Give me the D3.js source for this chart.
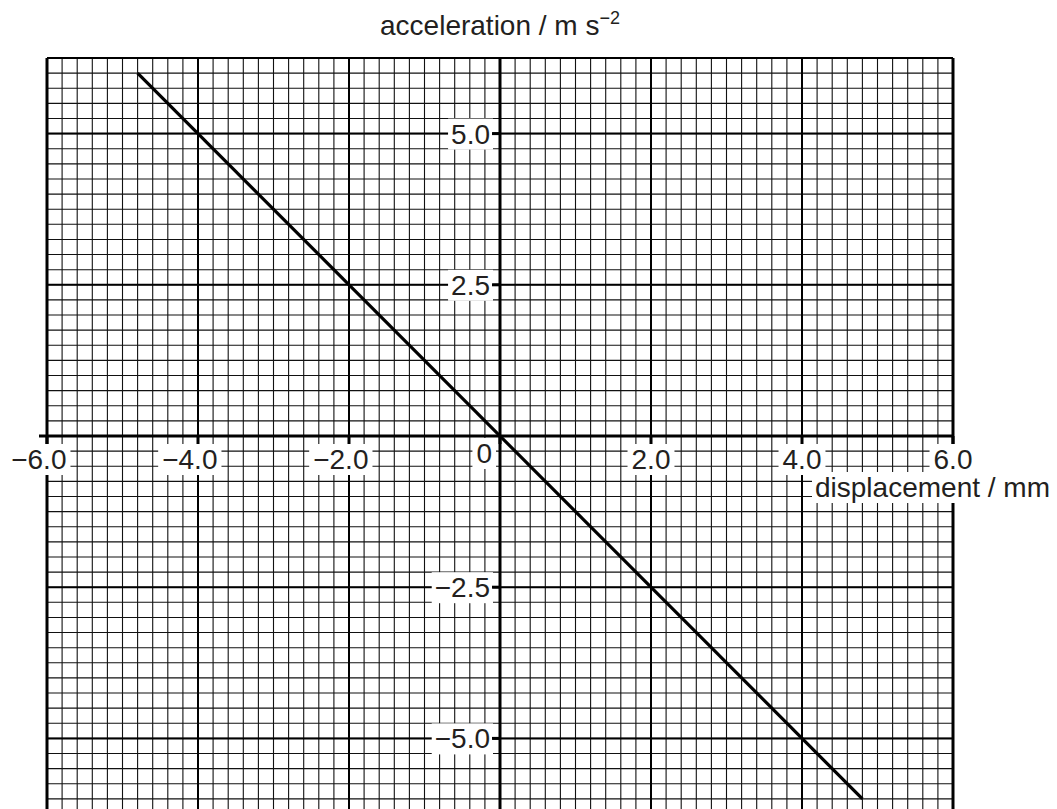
<!DOCTYPE html>
<html>
<head>
<meta charset="utf-8">
<script src="https://cdn.jsdelivr.net/npm/d3@7"></script>
<style>
  body { margin: 0; background: #fff; }
  text { font-family: "Liberation Sans", Arial, sans-serif; fill: #231f20; }
</style>
</head>
<body>
<div id="chart"></div>
<script>
// data
var xTicks = [-6, -4, -2, 0, 2, 4, 6];
var xTickLabels = ["−6.0", "−4.0", "−2.0", "0", "2.0", "4.0", "6.0"];
var yTicks = [5, 2.5, -2.5, -5];
var yTickLabels = ["5.0", "2.5", "−2.5", "−5.0"];
var lineX = [-4.8, 4.8];
var lineY = [6.0, -6.0];

var W = 1057, H = 809;

var x = d3.scaleLinear().domain([-6, 6]).range([47, 953]);
var y = d3.scaleLinear().domain([-6.25, 6.25]).range([814, 58]);

var svg = d3.select("#chart").append("svg")
  .attr("width", W).attr("height", H);

// minor grid
var gx = d3.range(-6, 6.0001, 0.2);
var gy = d3.range(-6.25, 6.2501, 0.25);
var grid = svg.append("g");
grid.selectAll(".vx").data(gx).enter().append("line")
  .attr("x1", function(d){ return x(d); }).attr("x2", function(d){ return x(d); })
  .attr("y1", y(6.25)).attr("y2", y(-6.25))
  .attr("stroke", "#111").attr("stroke-width", 1.1);
grid.selectAll(".hy").data(gy).enter().append("line")
  .attr("y1", function(d){ return y(d); }).attr("y2", function(d){ return y(d); })
  .attr("x1", x(-6)).attr("x2", x(6))
  .attr("stroke", "#111").attr("stroke-width", 1.1);

// major grid
grid.selectAll(".mx").data(xTicks).enter().append("line")
  .attr("x1", function(d){ return x(d); }).attr("x2", function(d){ return x(d); })
  .attr("y1", y(6.25)).attr("y2", y(-6.25))
  .attr("stroke", "#000").attr("stroke-width", 2);
grid.selectAll(".my").data([-5, -2.5, 2.5, 5]).enter().append("line")
  .attr("y1", function(d){ return y(d); }).attr("y2", function(d){ return y(d); })
  .attr("x1", x(-6)).attr("x2", x(6))
  .attr("stroke", "#000").attr("stroke-width", 2);

// border
grid.append("line").attr("x1", x(-6)).attr("x2", x(-6)).attr("y1", y(6.25)).attr("y2", y(-6.25))
  .attr("stroke", "#000").attr("stroke-width", 3);
grid.append("line").attr("x1", x(6)).attr("x2", x(6)).attr("y1", y(6.25)).attr("y2", y(-6.25))
  .attr("stroke", "#000").attr("stroke-width", 3);
grid.append("line").attr("x1", x(-6)).attr("x2", x(6)).attr("y1", y(6.25)).attr("y2", y(6.25))
  .attr("stroke", "#000").attr("stroke-width", 2);

var fs = 28;

function boxed(g, pad, padY) {
  var b = g.node().getBBox();
  g.insert("rect", ":first-child")
    .attr("x", b.x - pad).attr("y", b.y - padY)
    .attr("width", b.width + 2 * pad).attr("height", b.height + 2 * padY)
    .attr("fill", "#fff");
}

// x tick labels
xTicks.forEach(function(t, i){
  var g = svg.append("g");
  var lab = xTickLabels[i];
  if (t === 0) {
    g.append("text").attr("x", x(0) - 8).attr("y", 463)
      .attr("text-anchor", "end").attr("font-size", fs).text(lab);
    boxed(g, 4, 0);
    return;
  }
  var neg = lab.charAt(0) === "−";
  var num = neg ? lab.slice(1) : lab;
  var tn = g.append("text").attr("x", x(t)).attr("y", 469)
    .attr("text-anchor", "middle").attr("font-size", fs).text(num);
  if (neg) {
    var bb = tn.node().getBBox();
    g.append("text").attr("x", bb.x).attr("y", 469)
      .attr("text-anchor", "end").attr("font-size", fs).text("−");
  }
  boxed(g, 4, 0);
});

// y tick labels
yTicks.forEach(function(t, i){
  var g = svg.append("g");
  g.append("text").attr("x", x(0) - 10).attr("y", y(t) + 10)
    .attr("text-anchor", "end").attr("font-size", fs).text(yTickLabels[i]);
  boxed(g, 3, 0);
});

// axis title x
var gxT = svg.append("g");
gxT.append("text").attr("x", 815).attr("y", 497)
  .attr("font-size", fs).text("displacement / mm");
boxed(gxT, 3, 0);

// axis title y
var yt = svg.append("text").attr("x", x(0)).attr("y", 35)
  .attr("text-anchor", "middle").attr("font-size", fs);
yt.append("tspan").text("acceleration / m s");
yt.append("tspan").attr("font-size", 18).attr("dy", -11).text("−2");

// axes
svg.append("line").attr("x1", 39).attr("x2", x(6)).attr("y1", y(0)).attr("y2", y(0))
  .attr("stroke", "#000").attr("stroke-width", 3);
svg.append("line").attr("x1", x(0)).attr("x2", x(0)).attr("y1", y(6.25)).attr("y2", y(-6.25))
  .attr("stroke", "#000").attr("stroke-width", 3);

// ticks
svg.selectAll(".xt").data(xTicks).enter().append("line")
  .attr("x1", function(d){ return x(d); }).attr("x2", function(d){ return x(d); })
  .attr("y1", y(0)).attr("y2", y(0) + 8)
  .attr("stroke", "#000").attr("stroke-width", 3);
svg.selectAll(".yt").data(yTicks).enter().append("line")
  .attr("y1", function(d){ return y(d); }).attr("y2", function(d){ return y(d); })
  .attr("x1", x(0) - 8).attr("x2", x(0))
  .attr("stroke", "#000").attr("stroke-width", 3);

// data line
var pts = lineX.map(function(d, i){ return [d, lineY[i]]; });
svg.append("path").datum(pts)
  .attr("d", d3.line().x(function(d){ return x(d[0]); }).y(function(d){ return y(d[1]); }))
  .attr("fill", "none").attr("stroke", "#000").attr("stroke-width", 3.2);
</script>
</body>
</html>
